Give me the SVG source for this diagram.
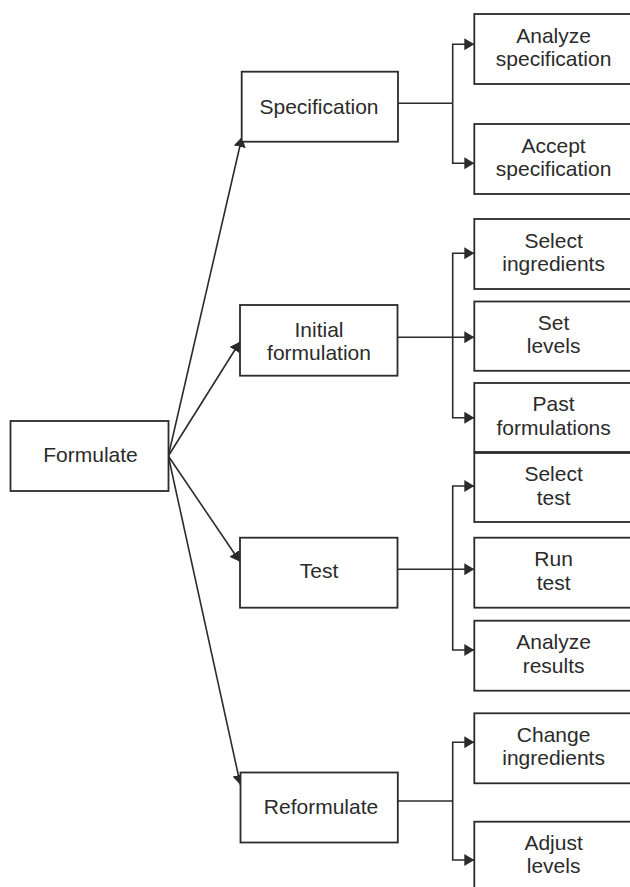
<svg xmlns="http://www.w3.org/2000/svg" width="630" height="887" viewBox="0 0 630 887">
  <defs>
    <marker id="arr" markerUnits="userSpaceOnUse" markerWidth="11" markerHeight="13" refX="10" refY="6" orient="auto">
      <path d="M0,0 L10,6 L0,12 z" fill="#2b2b2b"/>
    </marker>
    <style>
      rect { fill: #ffffff; stroke: #2b2b2b; stroke-width: 1.8; }
      text { font-family: "Liberation Sans", Arial, Helvetica, sans-serif; font-size: 21px; fill: #2b2b2b; text-anchor: middle; }
      .c { fill: none; stroke: #2b2b2b; stroke-width: 1.6; }
      .a { marker-end: url(#arr); }
    </style>
  </defs>
  <rect x="0" y="0" width="630" height="887" style="fill:#ffffff;stroke:none"/>

  <g id="connectors">
    <line class="c a" x1="168.3" y1="456" x2="242" y2="137"/>
    <line class="c a" x1="168.3" y1="456" x2="240" y2="341.7"/>
    <line class="c a" x1="168.3" y1="456" x2="240" y2="561.7"/>
    <line class="c a" x1="168.3" y1="456" x2="240.5" y2="785"/>

    <path class="c" d="M398,103.3 H452.7"/>
    <path class="c a" d="M452.7,103.3 V44.3 H474.3"/>
    <path class="c a" d="M452.7,103.3 V163.3 H474.3"/>

    <path class="c a" d="M397.5,337.3 H474.3"/>
    <path class="c a" d="M452.7,337.3 V253.3 H474.3"/>
    <path class="c a" d="M452.7,337.3 V417.7 H474.3"/>

    <path class="c a" d="M397.5,569.3 H474.3"/>
    <path class="c a" d="M452.7,569.3 V486 H474.3"/>
    <path class="c a" d="M452.7,569.3 V650 H474.3"/>

    <path class="c" d="M398,801 H452.7"/>
    <path class="c a" d="M452.7,801 V742.3 H474.3"/>
    <path class="c a" d="M452.7,801 V860 H474.3"/>
  </g>

  <g id="formulate">
    <rect x="10.5" y="421" width="158" height="70"/>
    <text x="90.5" y="462">Formulate</text>
  </g>

  <g id="specification">
    <rect x="241.7" y="71.7" width="156.3" height="70"/>
    <text x="319" y="114">Specification</text>
  </g>
  <g id="initial-formulation">
    <rect x="240" y="305" width="157.5" height="70.7"/>
    <text x="319" y="336.7">Initial</text>
    <text x="319" y="360">formulation</text>
  </g>
  <g id="test">
    <rect x="240" y="537.7" width="157.5" height="70"/>
    <text x="319" y="578">Test</text>
  </g>
  <g id="reformulate">
    <rect x="240.5" y="772.5" width="157.3" height="70"/>
    <text x="321" y="813.5">Reformulate</text>
  </g>

  <g id="analyze-specification">
    <rect x="474.3" y="14" width="158" height="70"/>
    <text x="553.6" y="42.7">Analyze</text>
    <text x="553.6" y="66">specification</text>
  </g>
  <g id="accept-specification">
    <rect x="474.3" y="124" width="158" height="70"/>
    <text x="553.6" y="152.7">Accept</text>
    <text x="553.6" y="176">specification</text>
  </g>
  <g id="select-ingredients">
    <rect x="474.3" y="219" width="158" height="70"/>
    <text x="553.6" y="247.7">Select</text>
    <text x="553.6" y="270.7">ingredients</text>
  </g>
  <g id="set-levels">
    <rect x="474.3" y="301.5" width="158" height="69.3"/>
    <text x="553.6" y="329.8">Set</text>
    <text x="553.6" y="353">levels</text>
  </g>
  <g id="past-formulations">
    <rect x="474.3" y="383" width="158" height="69"/>
    <text x="553.6" y="411.2">Past</text>
    <text x="553.6" y="434.5">formulations</text>
  </g>
  <g id="select-test">
    <rect x="474.3" y="453" width="158" height="69"/>
    <text x="553.6" y="481.2">Select</text>
    <text x="553.6" y="504.5">test</text>
  </g>
  <g id="run-test">
    <rect x="474.3" y="537.7" width="158" height="70"/>
    <text x="553.6" y="566.4">Run</text>
    <text x="553.6" y="589.7">test</text>
  </g>
  <g id="analyze-results">
    <rect x="474.3" y="620.7" width="158" height="70"/>
    <text x="553.6" y="649.4">Analyze</text>
    <text x="553.6" y="672.7">results</text>
  </g>
  <g id="change-ingredients">
    <rect x="474.3" y="713.3" width="158" height="70"/>
    <text x="553.6" y="742">Change</text>
    <text x="553.6" y="765.3">ingredients</text>
  </g>
  <g id="adjust-levels">
    <rect x="474.3" y="821.7" width="158" height="80"/>
    <text x="553.6" y="849.5">Adjust</text>
    <text x="553.6" y="872.8">levels</text>
  </g>
</svg>
